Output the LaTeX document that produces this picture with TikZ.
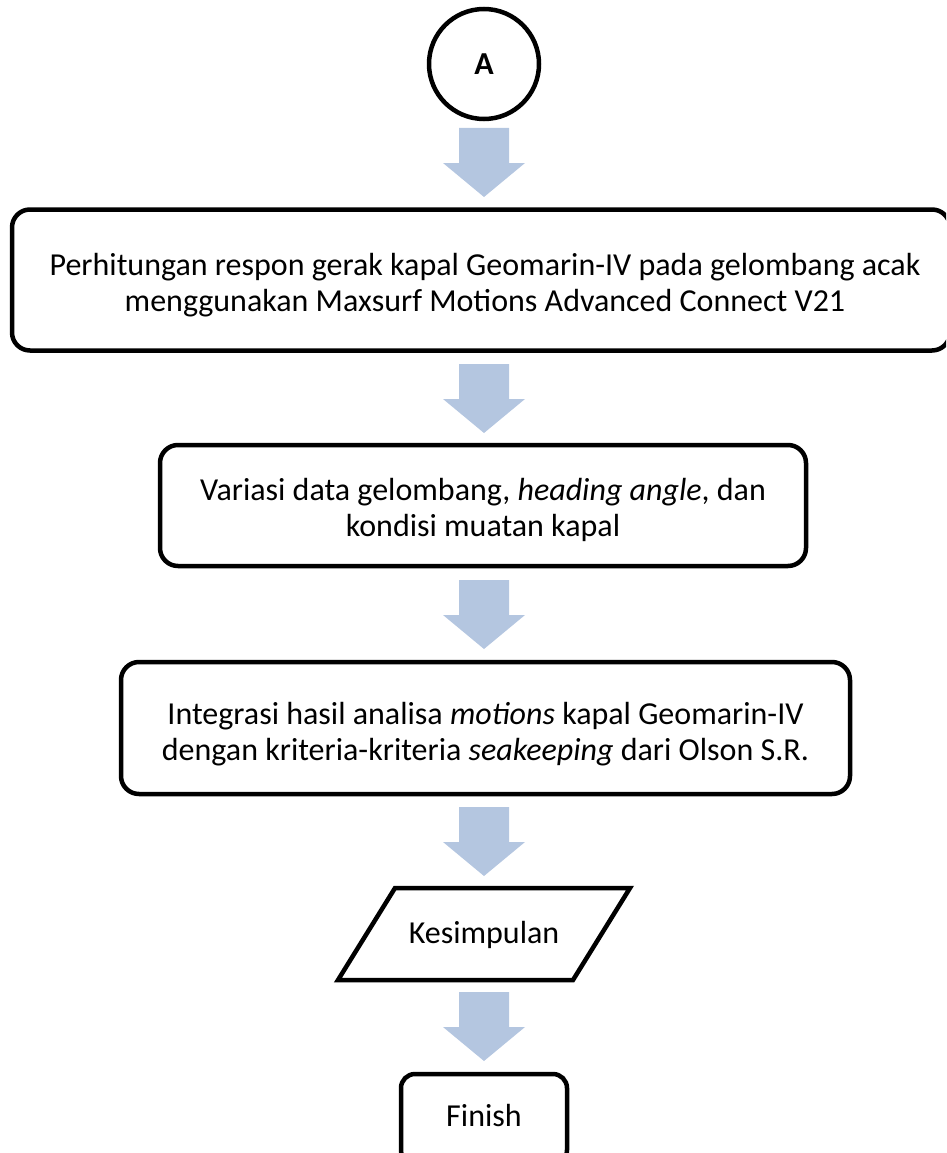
\documentclass[tikz,border=0pt]{standalone}
\usepackage{fontspec}
\setmainfont{Carlito}
\usetikzlibrary{calc}
\definecolor{arrowblue}{RGB}{180,198,224}
\tikzset{
  box/.style={draw=black, line width=4.5pt, rounded corners=18pt, fill=white, inner sep=0pt},
  txt/.style={align=center, font=\fontsize{32}{36}\selectfont, inner sep=0pt},
  blockarrow/.style={fill=arrowblue, draw=none}
}
\newcommand{\blockdown}[2]{%
  \fill[blockarrow] ({#1-25},{#2}) -- ({#1+25},{#2}) -- ({#1+25},{#2+35}) -- ({#1+41},{#2+35})
    -- ({#1},{#2+69}) -- ({#1-41},{#2+35}) -- ({#1-25},{#2+35}) -- cycle;}
\begin{document}
\begin{tikzpicture}[x={(1pt,0pt)}, y={(0pt,-1pt)}]
\useasboundingbox (0,0) rectangle (946,1153);
\clip (0,0) rectangle (946,1153);
% start connector
\node[circle, draw=black, line width=4.5pt, minimum size=110pt, inner sep=0pt,
  font=\fontsize{32}{36}\selectfont\bfseries] (A) at (484,64) {A};
\blockdown{484}{128}
% box 1
\node[box, minimum width=938pt, minimum height=141pt] (b1) at (481,280) {};
\node[txt] (t1) at (485,285)
  {Perhitungan respon gerak kapal Geomarin-IV pada gelombang acak\\
   menggunakan Maxsurf Motions Advanced Connect V21};
\blockdown{484}{364}
% box 2
\node[box, minimum width=646pt, minimum height=121pt] (b2) at (483,505.5) {};
\node[txt] (t2) at (483,510)
  {Variasi data gelombang, \textit{heading angle}, dan\\ kondisi muatan kapal};
\blockdown{484}{580}
% box 3
\node[box, minimum width=729pt, minimum height=132pt] (b3) at (485.5,728) {};
\node[txt] (t3) at (485.5,734)
  {Integrasi hasil analisa \textit{motions} kapal Geomarin-IV\\
   dengan kriteria-kriteria \textit{seakeeping} dari Olson S.R.};
\blockdown{484}{807}
% parallelogram
\draw[line width=4.5pt, line join=miter, fill=white] (395,888) -- (630,888) -- (573,980) -- (338,980) -- cycle;
\node[txt] (kes) at (484,935) {Kesimpulan};
\blockdown{484}{992}
% finish
\node[box, rounded corners=14pt, minimum width=166pt, minimum height=90pt] (fin) at (484,1119) {};
\node[txt] (fintxt) at (484,1115) {Finish};
\end{tikzpicture}
\end{document}
